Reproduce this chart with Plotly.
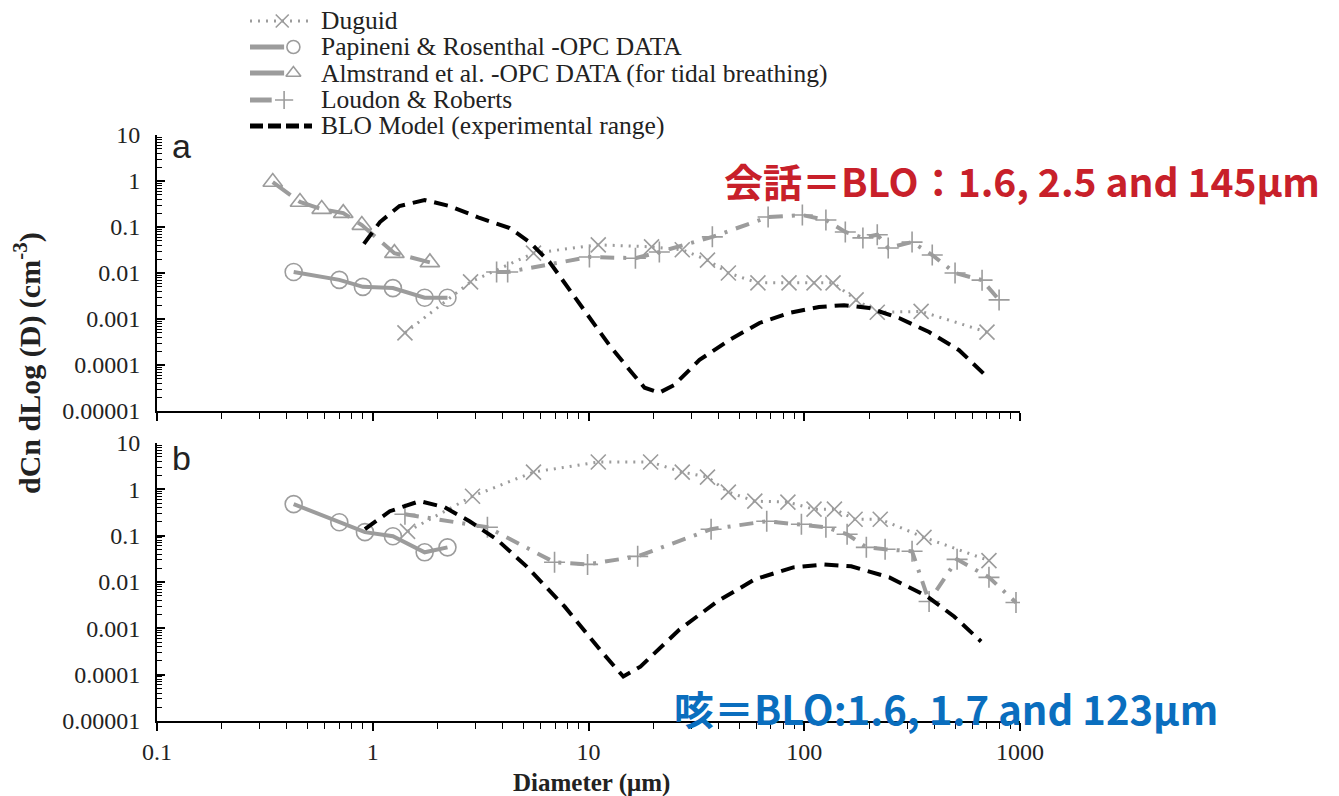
import plotly.graph_objects as go

# ---------------- data: panel a (speaking) ----------------
duguid_a_x = [1.41, 2.84, 5.56, 11.1, 19.6, 27.2, 35.6, 44.5, 61, 85, 111, 136, 174, 218, 348, 703]
duguid_a_y = [0.0005, 0.0064, 0.027, 0.041, 0.037, 0.032, 0.019, 0.010, 0.0061, 0.0061, 0.0061, 0.0061, 0.0026, 0.0014, 0.00146, 0.00052]

pap_a_x = [0.43, 0.70, 0.90, 1.24, 1.74, 2.22]
pap_a_y = [0.0105, 0.0071, 0.005, 0.0047, 0.0029, 0.0029]

alm_a_x = [0.344, 0.46, 0.58, 0.73, 0.89, 1.26, 1.84]
alm_a_y = [0.95, 0.35, 0.245, 0.2, 0.11, 0.027, 0.017]

loud_a_x = [3.75, 4.22, 10.1, 16.5, 21.3, 37.5, 68, 98, 126, 155, 187, 218, 245, 316, 392, 500, 667, 800]
loud_a_y = [0.0105, 0.0105, 0.0223, 0.021, 0.0286, 0.061, 0.165, 0.182, 0.142, 0.078, 0.058, 0.068, 0.035, 0.047, 0.0246, 0.010, 0.007, 0.0026]

blo_a_x = [0.91, 1.08, 1.33, 1.74, 2.27, 3.13, 4.31, 5.33, 6.6, 8.2, 10.1, 12.5, 15.5, 18.2, 21.3, 25,
           32.7, 45, 62, 85, 117, 153, 200, 275, 379, 522, 681]
blo_a_y = [0.043, 0.128, 0.286, 0.386, 0.286, 0.157, 0.095, 0.047, 0.0173, 0.0043, 0.00105, 0.00027, 7.8e-5,
           3.2e-5, 2.5e-5, 3.7e-5, 1.29e-4, 3.5e-4, 8.2e-4, 1.35e-3, 1.82e-3, 2.0e-3, 1.73e-3, 1.05e-3,
           5.2e-4, 2.1e-4, 6.4e-5]

# ---------------- data: panel b (coughing) ----------------
duguid_b_x = [1.45, 2.9, 5.56, 11.1, 19.4, 27.2, 35.6, 44.5, 59, 84, 111, 138, 172, 225, 359, 718]
duguid_b_y = [0.124, 0.71, 2.36, 3.88, 3.88, 2.36, 1.84, 0.87, 0.556, 0.53, 0.373, 0.373, 0.226, 0.226, 0.092, 0.029]

pap_b_x = [0.43, 0.70, 0.92, 1.24, 1.74, 2.22]
pap_b_y = [0.48, 0.195, 0.119, 0.097, 0.0437, 0.056]

loud_b_x = [1.41, 3.4, 6.96, 9.9, 16.9, 37, 67, 97, 126, 158, 194, 237, 316, 379, 511, 718, 958]
loud_b_y = [0.29, 0.152, 0.0266, 0.024, 0.0358, 0.138, 0.205, 0.177, 0.152, 0.107, 0.056, 0.0508, 0.046,
            0.0038, 0.0308, 0.0126, 0.0036]

blo_b_x = [0.92, 1.2, 1.65, 2.15, 2.81, 3.75, 5.16, 7.74, 11.6, 14.5, 17.4, 26.4, 39.5, 59, 89, 124, 165,
           248, 371, 495, 660]
blo_b_y = [0.138, 0.337, 0.556, 0.412, 0.205, 0.0836, 0.0218, 0.00297, 0.000299, 9.1e-5, 1.49e-4, 9.4e-4,
           0.0038, 0.0114, 0.0207, 0.024, 0.0218, 0.0126, 0.0049, 0.0018, 0.00052]

x_tick_vals = [0.1, 1, 10, 100, 1000]
x_tick_text = ["0.1", "1", "10", "100", "1000"]
y_tick_vals = [1e-5, 1e-4, 1e-3, 1e-2, 1e-1, 1, 10]
y_tick_text = ["0.00001", "0.0001", "0.001", "0.01", "0.1", "1", "10"]

legend_names = ["Duguid", "Papineni & Rosenthal -OPC DATA",
                "Almstrand et al. -OPC DATA (for tidal breathing)",
                "Loudon & Roberts", "BLO Model (experimental range)"]

GRAY = "#9c9c9c"
TXT = "#222222"
SERIF = "Liberation Serif, Times New Roman, serif"
W, H = 1339, 796

fig = go.Figure()

def add(x, y, name, xa, ya, line, marker, mode="lines+markers"):
    fig.add_trace(go.Scatter(x=x, y=y, name=name, xaxis=xa, yaxis=ya, showlegend=False,
                             mode=mode, line=line, marker=marker, hoverinfo="x+y+name"))

duguid_line = dict(color=GRAY, width=3, dash="2px,6px")
duguid_mk = dict(symbol="x-thin-open", size=15, color=GRAY, line=dict(color=GRAY, width=1.6))
pap_line = dict(color=GRAY, width=4)
pap_mk = dict(symbol="circle-open", size=17, color=GRAY, line=dict(color=GRAY, width=1.6))
alm_line = dict(color=GRAY, width=4, dash="22px,10px")
alm_mk = dict(symbol="triangle-up-open", size=17, color=GRAY, line=dict(color=GRAY, width=1.6))
loud_line = dict(color=GRAY, width=4, dash="14px,9px,3px,9px")
loud_mk = dict(symbol="cross-thin-open", size=15, color=GRAY, line=dict(color=GRAY, width=1.6))
blo_line = dict(color="black", width=4, dash="14px,8px")
no_mk = dict(size=1)

# panel a
add(duguid_a_x, duguid_a_y, legend_names[0], "x", "y", duguid_line, duguid_mk)
add(pap_a_x, pap_a_y, legend_names[1], "x", "y", pap_line, pap_mk)
add(alm_a_x, alm_a_y, legend_names[2], "x", "y", alm_line, alm_mk)
add(loud_a_x, loud_a_y, legend_names[3], "x", "y", loud_line, loud_mk)
add(blo_a_x, blo_a_y, legend_names[4], "x", "y", blo_line, no_mk, mode="lines")
# panel b
add(duguid_b_x, duguid_b_y, legend_names[0], "x2", "y2", duguid_line, duguid_mk)
add(pap_b_x, pap_b_y, legend_names[1], "x2", "y2", pap_line, pap_mk)
add(loud_b_x, loud_b_y, legend_names[3], "x2", "y2", loud_line, loud_mk)
add(blo_b_x, blo_b_y, legend_names[4], "x2", "y2", blo_line, no_mk, mode="lines")

# ---------------- hand-built legend key (own small axes) ----------------
legend_rows = [21, 47, 73, 100, 126]          # pixel rows of the key
key_styles = [
    (duguid_line, duguid_mk, [0.0, 1.0], 0.52),
    (dict(color=GRAY, width=5), pap_mk, [0.0, 0.55], 0.70),
    (dict(color=GRAY, width=5), alm_mk, [0.0, 0.55], 0.70),
    (dict(color=GRAY, width=5), loud_mk, [0.0, 0.35], 0.55),
    (dict(color="black", width=5, dash="13px,5px"), None, [0.0, 1.0], None),
]
for row, (ln, mk, seg, mx) in zip(legend_rows, key_styles):
    fig.add_trace(go.Scatter(x=seg, y=[row, row], xaxis="x3", yaxis="y3", mode="lines",
                             line=ln, showlegend=False, hoverinfo="skip"))
    if mk is not None:
        fig.add_trace(go.Scatter(x=[mx], y=[row], xaxis="x3", yaxis="y3", mode="markers",
                                 marker=dict(mk, size=13), showlegend=False, hoverinfo="skip"))

x_dom = [157 / W, 1020 / W]
ya_dom = [1 - 411 / H, 1 - 135 / H]
yb_dom = [1 - 721 / H, 1 - 443 / H]

minor_x = [m * 10 ** e for e in range(-1, 3) for m in range(2, 10)]
minor_y = [m * 10 ** e for e in range(-5, 1) for m in range(2, 10)]

xcommon = dict(type="log", range=[-1, 3], showgrid=False, zeroline=False, showline=True, automargin=False,
               linecolor="black", linewidth=2, ticks="outside", ticklen=8, tickwidth=1.5,
               tickcolor="black", tickvals=x_tick_vals,
               minor=dict(tickvals=minor_x, ticks="outside", ticklen=6, tickwidth=1.2, tickcolor="black"))
ycommon = dict(type="log", range=[-5, 1], showgrid=False, zeroline=False, showline=True, automargin=False,
               linecolor="black", linewidth=2, ticks="inside", ticklen=8, tickwidth=1.5,
               tickcolor="black", tickvals=y_tick_vals, ticktext=y_tick_text, ticklabelstandoff=10,
               tickfont=dict(family=SERIF, size=24, color=TXT),
               minor=dict(tickvals=minor_y, ticks="inside", ticklen=5, tickwidth=1, tickcolor="black"))
hidden = dict(visible=False, showgrid=False, zeroline=False, fixedrange=True)

fig.update_layout(
    width=W, height=H, margin=dict(l=0, r=0, t=0, b=0, autoexpand=False),
    paper_bgcolor="white", plot_bgcolor="white", showlegend=False,
    xaxis=dict(domain=x_dom, anchor="y", showticklabels=False, **xcommon),
    yaxis=dict(domain=ya_dom, anchor="x", **ycommon),
    xaxis2=dict(domain=x_dom, anchor="y2", showticklabels=True, ticktext=x_tick_text,
                tickfont=dict(family=SERIF, size=24, color=TXT), **xcommon),
    yaxis2=dict(domain=yb_dom, anchor="x2", **ycommon),
    xaxis3=dict(domain=[250 / W, 312 / W], range=[0, 1], anchor="y3", **hidden),
    yaxis3=dict(domain=[1 - 140 / H, 1.0], range=[140, 0], anchor="x3", **hidden),
)

ann = [
    dict(text="a", x=181 / W, y=1 - 146 / H, font=dict(family="Liberation Sans, Arial", size=34, color=TXT)),
    dict(text="b", x=181 / W, y=1 - 458 / H, font=dict(family="Liberation Sans, Arial", size=34, color=TXT)),
    dict(text="<b>dCn dLog (D) (cm<sup>-3</sup>)</b>", x=27 / W, y=1 - 363 / H, textangle=-90,
         font=dict(family=SERIF, size=30, color=TXT)),
    dict(text="<b>Diameter (μm)</b>", x=591 / W, y=1 - 783 / H, font=dict(family=SERIF, size=25, color=TXT)),
    dict(text="<b>会話＝BLO：1.6, 2.5 and 145μm</b>", x=1322 / W, y=1 - 180 / H, xanchor="right",
         font=dict(family="Noto Sans CJK JP", size=39, color="#C8202A")),
    dict(text="<b>咳＝BLO:1.6, 1.7 and 123μm</b>", x=672 / W, y=1 - 708 / H, xanchor="left",
         font=dict(family="Noto Sans CJK JP", size=40, color="#0A6EBE")),
]
for name, row in zip(legend_names, legend_rows):
    ann.append(dict(text=name, x=319 / W, y=1 - row / H, xanchor="left",
                    font=dict(family=SERIF, size=25.5, color=TXT)))

for a in ann:
    a.setdefault("xanchor", "center")
    a.setdefault("yanchor", "middle")
    fig.add_annotation(xref="paper", yref="paper", showarrow=False, **a)

fig.write_html("out.html")
